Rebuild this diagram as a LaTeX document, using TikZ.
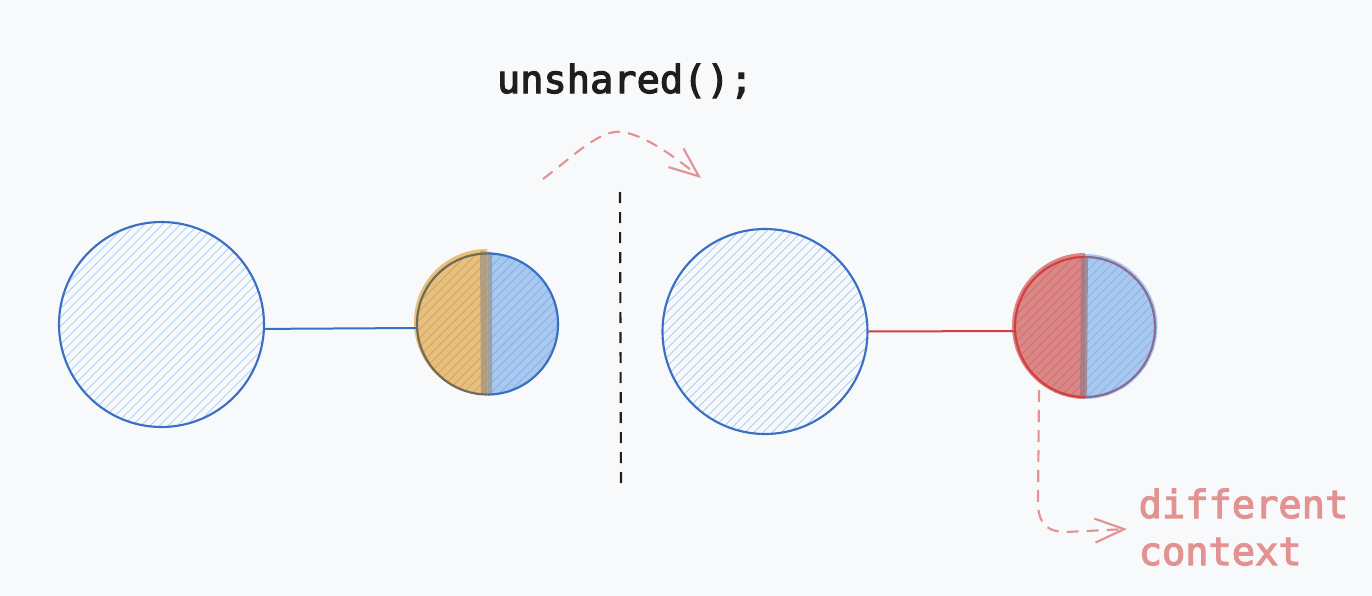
\documentclass[tikz,border=0pt]{standalone}
\usepackage{fontspec}
\newfontfamily\codefont[FakeBold=3]{DejaVu Sans Mono}
\usetikzlibrary{arrows.meta,calc}
\definecolor{bgc}{HTML}{F8F9FB}
\definecolor{bstroke}{HTML}{3A70C3}
\definecolor{hatchc}{HTML}{B0D0F5}
\definecolor{bfill}{HTML}{A6C9F3}
\definecolor{ofill}{HTML}{E9BF7C}
\definecolor{rfill}{HTML}{DE8686}
\definecolor{rstroke}{HTML}{D0403C}
\definecolor{arrowc}{HTML}{E39393}
\definecolor{textred}{HTML}{E29391}
\definecolor{darktext}{HTML}{1E1E1E}
\definecolor{oliveline}{HTML}{6E6A58}
\definecolor{purpleline}{HTML}{8E6A92}
\tikzset{
  hatchline/.style={draw=hatchc, line width=0.75pt},
  bigcircle/.style={circle, draw=bstroke, line width=1.6pt, minimum size=153.75pt, inner sep=0pt,
    path picture={
      \begin{scope}[shift={(path picture bounding box.center)}]
        \foreach \i in {-30,...,30} \draw[hatchline] (\i*9-140,140) -- ++(280,-280);
      \end{scope}}},
  smallcircle/.style={circle, minimum size=105pt, inner sep=0pt},
  edgeblue/.style={draw=bstroke, line width=1.5pt},
  edgered/.style={draw=rstroke, line width=1.5pt},
  sketcharrow/.style={draw=arrowc, line width=1.6pt, dash pattern=on 9pt off 6pt,
    -{Straight Barb[length=22pt,width=18pt,line width=1.6pt]}},
  divider/.style={draw=darktext, line width=1.6pt, dash pattern=on 8.25pt off 6.75pt},
  codetext/.style={font=\codefont\fontsize{29}{35}\selectfont},
  innerhatch/.style={draw=black, opacity=0.12, line width=0.7pt},
}
\begin{document}
\begin{tikzpicture}[x=0.75pt,y=-0.75pt]
\fill[bgc] (0,0) rectangle (1372,596);
\useasboundingbox (0,0) rectangle (1372,596);

% title
\node[codetext, text=darktext, anchor=base] (title) at (625,93) {unshared();};

% left pair
\node[bigcircle] (b1) at (161.5,324.5) {};
\node[smallcircle] (s1) at (487.5,324) {};
% fills of small circle 1 (y axis points down: 270 = top, 90 = bottom)
\fill[ofill] (487,249) arc[start angle=270,end angle=90,radius=73] -- cycle;
\fill[bfill] (487.5,252.5) arc[start angle=270,end angle=450,radius=71.5] -- cycle;
\begin{scope}
  \clip (487.5,324) circle[radius=72];
  \foreach \i in {-14,...,14} \draw[innerhatch] (487.5+\i*9-100,424) -- ++(200,-200);
\end{scope}
\fill[fill=ofill!60!bfill!75!black, opacity=0.7] (480,251) -- (492,252) -- (492,395) -- (481,394) -- cycle;
\draw[draw=oliveline, line width=1.6pt] (487.5,394.5) arc[start angle=90,end angle=270,radius=70.5];
\draw[draw=bstroke, line width=1.6pt] (487.5,253.5) arc[start angle=270,end angle=450,radius=70.5];

% divider
\coordinate (dtop) at (620,192);
\coordinate (dbot) at (621,484);
\draw[divider] (dtop) -- (dbot);

% top arrow
\coordinate (a0) at (543,179);
\coordinate (a1) at (622,132);
\coordinate (a2) at (701,178);
\draw[sketcharrow] (a0) .. controls (575,155) and (600,129) .. (a1) .. controls (645,135) and (675,157) .. (a2);

% right pair
\node[bigcircle] (b2) at (765,331.5) {};
\node[smallcircle] (s2) at (1085,327) {};
\fill[rfill] (1085,253) arc[start angle=270,end angle=90,radius=73] -- cycle;
\fill[bfill] (1085,254) arc[start angle=270,end angle=450,radius=72.5] -- cycle;
\begin{scope}
  \clip (1085,327) circle[radius=72];
  \foreach \i in {-14,...,14} \draw[innerhatch] (1085+\i*9-100,427) -- ++(200,-200);
\end{scope}
\fill[fill=rfill!60!bfill!75!black, opacity=0.7] (1081,256) -- (1088,256) -- (1087,398) -- (1080,397) -- cycle;
\draw[draw=rstroke, line width=1.6pt] (1085,397) arc[start angle=90,end angle=270,radius=70];
\draw[draw=purpleline, line width=1.6pt] (1085,257) arc[start angle=270,end angle=450,radius=70];

% connectors
\draw[edgeblue] ([yshift=-3.3pt]b1.east) -- ([yshift=-3pt]s1.west);
\draw[edgered] (b2.east) -- ([yshift=-3pt]s2.west);

% bottom arrow
\coordinate (c0) at (1039,390);
\coordinate (c1) at (1127,529);
\draw[sketcharrow] (c0) -- (1038,502) .. controls (1038,522) and (1046,532) .. (1066,532) -- (c1);
\node[codetext, text=textred, anchor=base west] (ctx) at (1134,518) {different};
\node[codetext, text=textred, anchor=base west] (ctx2) at (1134,565) {context};
\end{tikzpicture}
\end{document}
